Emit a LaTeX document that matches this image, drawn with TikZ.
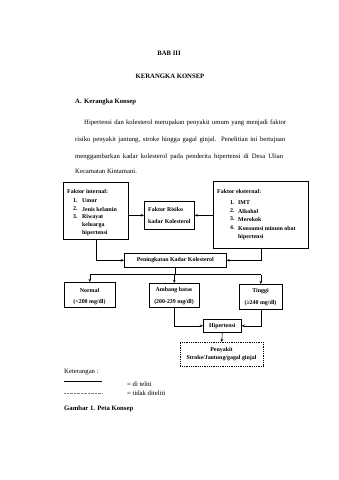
\documentclass[tikz,border=0pt]{standalone}
\usepackage{fontspec}
\setmainfont{Liberation Serif}
\usetikzlibrary{arrows.meta}
\begin{document}
\begin{tikzpicture}[x=1pt,y=-1pt,
  box/.style={draw, line width=0.6pt, inner sep=0pt, anchor=north west},
  dbox/.style={box, dash pattern=on 1pt off 0.8pt, line width=0.5pt},
  arr/.style={-{Stealth[length=3.2pt,width=2.6pt]}, line width=0.55pt},
  ln/.style={line width=0.55pt},
  body/.style={font=\fontsize{6.7}{8}\selectfont, inner sep=0pt},
  bt/.style={font=\fontsize{6.7}{8}\selectfont\bfseries, inner sep=0pt},
  bx/.style={font=\fontsize{5.9}{7}\selectfont\bfseries, inner sep=0pt}]
\fill[white] (0,0) rectangle (339,480);
\useasboundingbox (0,0) rectangle (339,480);

% headings
\node[bt, anchor=base] (t1) at (169,55) {BAB III};
\node[bt, anchor=base] (t2) at (170,78) {KERANGKA KONSEP};
\node[bt, anchor=base west] (t3a) at (75,103) {A.};
\node[bt, anchor=base west] (t3b) at (84,103) {Kerangka Konsep};

% paragraph
\node[body, anchor=base west] (p1) at (84,124.5) {\makebox[202pt][s]{Hipertensi dan kolesterol merupakan penyakit umum yang menjadi faktor}};
\node[body, anchor=base west] (p2) at (75,141.5) {\makebox[210pt][s]{risiko penyakit jantung, stroke hingga gagal ginjal. Penelitian ini bertujuan}};
\node[body, anchor=base west] (p3) at (75,158.5) {\makebox[208pt][s]{menggambarkan kadar kolesterol pada penderita hipertensi di Desa Ulian}};
\node[body, anchor=base west] (p4) at (75,173.5) {Kecamatan Kintamani.};

% boxes
\node[box, minimum width=65pt, minimum height=57pt] (int) at (63,182) {};
\node[box, minimum width=50pt, minimum height=28pt] (ris) at (144,201) {};
\node[box, minimum width=95pt, minimum height=67pt] (ext) at (213,181) {};
\node[box, minimum width=102pt, minimum height=14pt] (pen) at (124,253) {};
\node[box, minimum width=51pt, minimum height=25pt] (nor) at (64,282) {};
\node[box, minimum width=50pt, minimum height=24pt] (amb) at (149,283) {};
\node[box, minimum width=43pt, minimum height=25pt] (tin) at (239,284) {};
\node[box, minimum width=38pt, minimum height=13pt] (hip) at (203,319) {};
\node[dbox, minimum width=83pt, minimum height=24pt] (sak) at (180,342) {};

% internal text
\node[bx, anchor=west] (it) at (67,191) {Faktor internal:};
\node[bx, anchor=west] (in1) at (73,201) {1.};
\node[bx, anchor=west] (in2) at (73,209) {2.};
\node[bx, anchor=west] (in3) at (73,217) {3.};
\node[bx, anchor=west] (i1) at (82,201) {Umur};
\node[bx, anchor=west] (i2) at (82,209) {Jenis kelamin};
\node[bx, anchor=west] (i3) at (82,217) {Riwayat};
\node[bx, anchor=west] (i4) at (82,225) {keluarga};
\node[bx, anchor=west] (i5) at (82,233) {hipertensi};

% risiko text
\node[bx, anchor=west] (r1) at (148,209) {Faktor Risiko};
\node[bx, anchor=west] (r2) at (148,221) {kadar Kolesterol};

% external text
\node[bx, anchor=west] (et) at (217,191) {Faktor eksternal:};
\node[bx, anchor=west] (en1) at (230,203) {1.};
\node[bx, anchor=west] (en2) at (230,211) {2.};
\node[bx, anchor=west] (en3) at (230,219) {3.};
\node[bx, anchor=west] (en4) at (230,228) {4.};
\node[bx, anchor=west] (e1) at (238,203) {IMT};
\node[bx, anchor=west] (e2) at (238,211) {Alkohol};
\node[bx, anchor=west] (e3) at (238,219) {Merokok};
\node[bx, anchor=west] (e4) at (238,228) {Konsumsi minum obat};
\node[bx, anchor=west] (e5) at (238,237) {hipertensi};

% other box texts
\node[bx] (pt) at (pen.center) {Peningkatan Kadar Kolesterol};
\node[bx] (n1) at (89.5,290) {Normal};
\node[bx] (n2) at (89.5,302) {(<200 mg/dl)};
\node[bx] (a1) at (174,290) {Ambang batas};
\node[bx] (a2) at (174,302) {(200-239 mg/dl)};
\node[bx] (g1) at (260.5,291) {Tinggi};
\node[bx] (g2) at (260.5,303) {(≥240 mg/dl)};
\node[bx] (ht) at (hip.center) {Hipertensi};
\node[bx] (s1) at (221.5,350) {Penyakit};
\node[bx] (s2) at (221.5,358.5) {Stroke/Jantung/gagal ginjal};

% connectors
\draw[arr] (ris.west -| int.east) -- (ris.west);
\draw[arr] (ris.east -| ext.west) -- (ris.east);
\draw[arr] (int.south) |- (pen.west);
\draw[arr] (ext.south) |- (pen.east);
\coordinate (split) at ([yshift=-7pt]pen.south);
\draw[ln] (pen.south) -- (split);
\draw[ln] (split -| nor.north) -- (split -| tin.north);
\draw[arr] (split -| nor.north) -- (nor.north);
\draw[arr] (split -| amb.north) -- (amb.north);
\draw[arr] (split -| tin.north) -- (tin.north);
\draw[arr] (amb.south) |- (hip.west);
\draw[arr] (tin.south) |- (hip.east);
\draw[arr] (hip.south) -- (sak.north);

% legend
\node[body, anchor=base west] (ket) at (64,373) {Keterangan :};
\coordinate (l1a) at (64,381);
\coordinate (l1b) at (102,381);
\coordinate (l2a) at (64,393);
\coordinate (l2b) at (102,393);
\draw[line width=0.8pt] (l1a) -- (l1b);
\draw[line width=0.35pt, gray, dash pattern=on 0.8pt off 0.6pt] (l2a) -- (l2b);
\node[body, anchor=west] (k1) at (127,384) {= di teliti};
\node[body, anchor=west] (k2) at (127,393) {= tidak diteliti};
\node[bt, anchor=base west] (cap) at (64,410.5) {Gambar 1. Peta Konsep};
\end{tikzpicture}
\end{document}
